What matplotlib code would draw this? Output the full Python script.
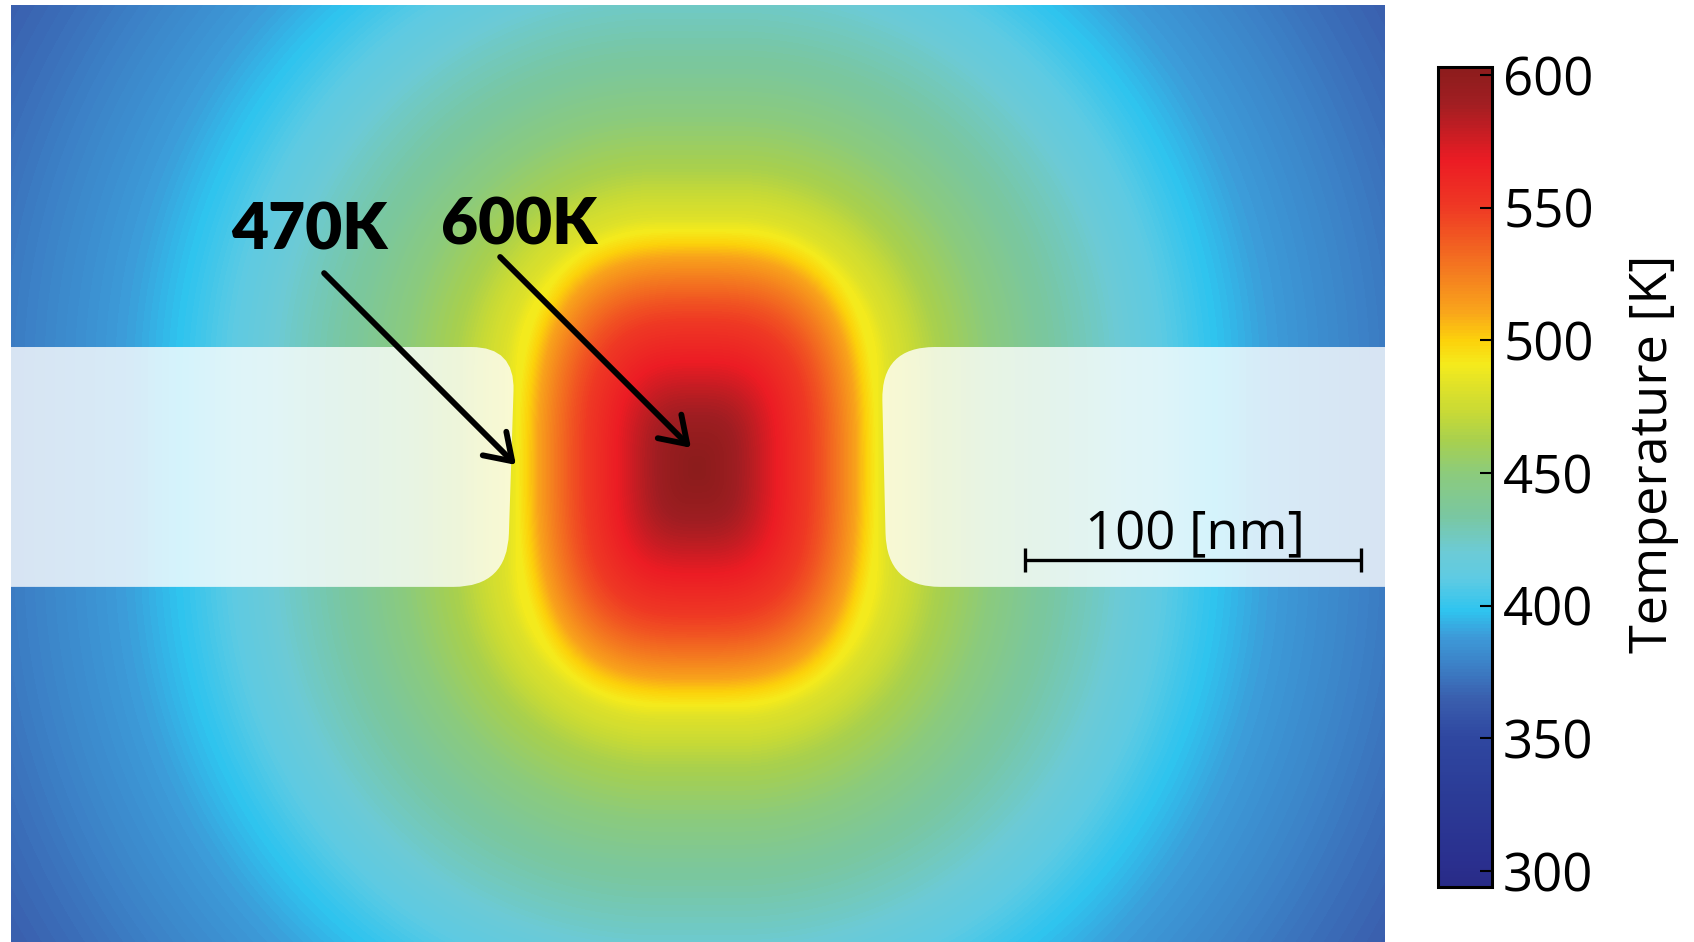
import numpy as np
import matplotlib.pyplot as plt
from matplotlib.colors import LinearSegmentedColormap, Normalize
from matplotlib.path import Path
from matplotlib.patches import PathPatch

# colour bar: temperatures (K) and the colours
CBAR_TEMPS = [294, 302, 327, 350, 365, 377, 388, 398, 410, 420, 434, 450,
              462, 473, 482, 491, 500, 511, 527, 550, 568, 590, 603]
CBAR_COLORS = ['#282b87', '#2a2f8e', '#2b3b96', '#2f47a0', '#3a5fae', '#3c80c6',
               '#3d9ad8', '#2fc4ef', '#5ecbe3', '#6ccbd6', '#7ac7a0', '#8ccb7c',
               '#a7d04f', '#c8da36', '#dde12a', '#f5eb1c', '#fcd20b', '#f9a51b',
               '#f47920', '#ef3a24', '#ec1c24', '#a01e22', '#8c1c1c']
TICKS = [300, 350, 400, 450, 500, 550, 600]
T_MIN, T_MAX = 294, 603

# temperature inside the hot spot vs normalised radius (0 = centre, 1 = yellow rim)
INNER_RHO = [0.0, 0.15, 0.3, 0.45, 0.6, 0.7, 0.8, 0.88, 0.94, 1.0]
INNER_TEMP = [603, 596, 583, 567, 552, 540, 525, 512, 500, 490]
# temperature outside the hot spot vs distance from its rim (nm)
OUTER_DIST = [0, 3, 7, 18, 32, 47, 67, 98, 115, 135, 160, 190, 210]
OUTER_TEMP = [490, 483, 478, 463, 451, 437, 424, 400, 390, 382, 372, 362, 355]

LABELS = ['470K', '600K']

# geometry in nm, origin at the hot spot
X0, X1 = -204.2, 204.8
Y0, Y1 = -141.1, 137.8
CORE_W, CORE_H, CORE_R = 53.6, 71.1, 42.0


def rounded_poly(pts, radii):
    verts, codes = [], []
    n = len(pts)
    for i in range(n):
        p = np.array(pts[i], float)
        prev = np.array(pts[i - 1], float)
        nxt = np.array(pts[(i + 1) % n], float)
        r = radii[i]
        a = p + (prev - p) / np.linalg.norm(prev - p) * r
        b = p + (nxt - p) / np.linalg.norm(nxt - p) * r
        verts.append(a)
        codes.append(Path.MOVETO if i == 0 else Path.LINETO)
        verts += [p, b]
        codes += [Path.CURVE3, Path.CURVE3]
    verts.append(verts[0])
    codes.append(Path.CLOSEPOLY)
    return Path(verts, codes)


# temperature field
xs = np.linspace(X0, X1, 1374)
ys = np.linspace(Y0, Y1, 937)
X, Y = np.meshgrid(xs, ys)
ax_, ay_ = np.abs(X), np.abs(Y)
rho = ((ax_ / CORE_W) ** 3.0 + (ay_ / CORE_H) ** 3.0) ** (1 / 3.0)
qx = ax_ - (CORE_W - CORE_R)
qy = ay_ - (CORE_H - CORE_R)
dist = np.hypot(np.maximum(qx, 0), np.maximum(qy, 0)) + np.minimum(np.maximum(qx, qy), 0) - CORE_R
temp = np.where(rho < 1,
                np.interp(rho, INNER_RHO, INNER_TEMP),
                np.interp(np.maximum(dist, 0), OUTER_DIST, OUTER_TEMP))

stops = [(t - T_MIN) / (T_MAX - T_MIN) for t in CBAR_TEMPS]
cmap = LinearSegmentedColormap.from_list('temp', list(zip(stops, CBAR_COLORS)))
norm = Normalize(T_MIN, T_MAX)

fig = plt.figure(figsize=(16.94, 9.42), dpi=100)
ax = fig.add_axes([11 / 1694, 0, 1374 / 1694, 937 / 942])
im = ax.imshow(temp, cmap=cmap, norm=norm, origin='lower', extent=[X0, X1, Y0, Y1],
               aspect='auto', interpolation='bilinear')
ax.set_xlim(X0, X1)
ax.set_ylim(Y0, Y1)
ax.axis('off')

# gold electrodes
left = rounded_poly([(-250, 36.0), (-54.2, 36.0), (-56.5, -35.4), (-250, -35.4)], [0, 13, 16, 0])
right = rounded_poly([(54.8, 36.0), (250, 36.0), (250, -35.4), (56.5, -35.4)], [16, 0, 0, 16])
for p in (left, right):
    ax.add_patch(PathPatch(p, facecolor='white', edgecolor='none', alpha=0.8))

# annotations
arrow = dict(arrowstyle='->,head_length=0.45,head_width=0.3', lw=4.2, color='black',
             mutation_scale=40, shrinkA=0, shrinkB=0)
ax.annotate('', xy=(-53.9, 0.9), xytext=(-111.0, 58.0), arrowprops=arrow)
ax.annotate('', xy=(-1.8, 6.0), xytext=(-58.6, 62.8), arrowprops=arrow)
ax.text(-115.5, 70.5, LABELS[0], fontsize=46, fontweight='heavy', family='Lato',
        ha='center', va='center')
ax.text(-53.0, 72.0, LABELS[1], fontsize=46, fontweight='heavy', family='Lato',
        ha='center', va='center')

# scale bar
ax.plot([97.6, 197.6], [-27.4, -27.4], color='black', lw=2.4, solid_capstyle='butt')
for xb in (97.6, 197.6):
    ax.plot([xb, xb], [-31.1, -23.7], color='black', lw=2.4, solid_capstyle='butt')
ax.text(148.2, -24.1, '100 [nm]', fontsize=38, family='Open Sans',
        ha='center', va='baseline')

# colour bar
cax = fig.add_axes([1438 / 1694, 55 / 942, 54 / 1694, 820 / 942])
cb = fig.colorbar(im, cax=cax, ticks=TICKS)
cb.outline.set_linewidth(2.2)
cax.tick_params(direction='in', length=9, width=1.5, labelsize=38, pad=8)
for lab in cax.get_yticklabels():
    lab.set_family('Open Sans')
fig.text(1653 / 1694, 1 - 454 / 942, 'Temperature [K]', rotation=90, fontsize=37.5,
         family='Open Sans', ha='center', va='center')

fig.savefig('out.png', dpi=100)
